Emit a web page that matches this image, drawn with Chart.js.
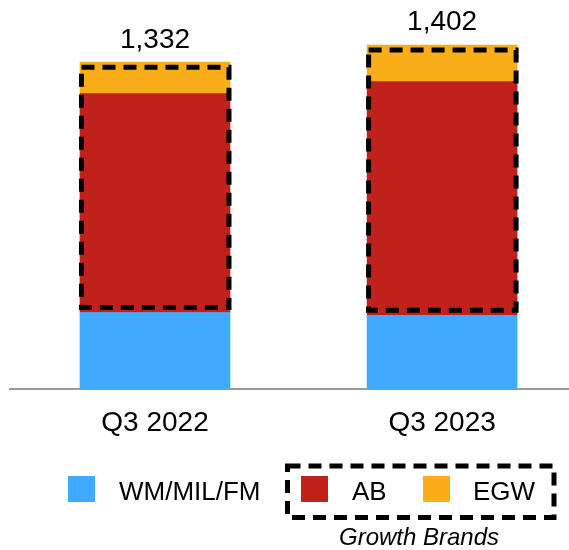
<!DOCTYPE html>
<html>
<head>
<meta charset="utf-8">
<script src="https://cdn.jsdelivr.net/npm/chart.js@4"></script>
<style>
html,body{margin:0;padding:0;background:#fff;overflow:hidden;}
#wrap{position:relative;width:569px;height:550px;}
</style>
</head>
<body>
<div id="wrap"><canvas id="c" width="569" height="550"></canvas></div>
<script>
const categories = ["Q3 2022", "Q3 2023"];
const seriesNames = ["WM/MIL/FM", "AB", "EGW"];
const wmMilFm = [313, 302];
const ab = [891, 951];
const egw = [128, 149];
const totals = [1332, 1402];
const groupLabel = "Growth Brands";
const colors = ["#40AAFF", "#C0211A", "#F9AD19"];

const FONT = "'Liberation Sans', Arial, Helvetica, sans-serif";

function toPoints(arr){ return arr.map((v,i)=>({x:i, y:v})); }

const overlay = {
  id: 'overlay',
  afterDatasetsDraw(chart){
    const ctx = chart.ctx;
    const mAB = chart.getDatasetMeta(1), mEGW = chart.getDatasetMeta(2);
    ctx.save();
    // dashed boxes around growth brands
    ctx.strokeStyle = '#000';
    ctx.lineWidth = 5;
    ctx.setLineDash([13, 8]);
    mAB.data.forEach((bar, i) => {
      const top = mEGW.data[i];
      const w = bar.width;
      const l = bar.x - w/2 + 1.5, r = bar.x + w/2 - 1;
      const t = top.y + 5, b = bar.base - 5;
      ctx.strokeRect(l, t, r - l, b - t);
    });
    ctx.setLineDash([]);
    // totals
    ctx.fillStyle = '#000';
    ctx.font = `28px ${FONT}`;
    ctx.textAlign = 'center';
    ctx.textBaseline = 'alphabetic';
    mEGW.data.forEach((bar, i) => {
      ctx.fillText(totals[i].toLocaleString('en-US'), bar.x, bar.y - 14.5);
    });
    // legend
    const sq = 27;
    const items = [
      {x: 68, tx: 119},
      {x: 301, tx: 352},
      {x: 423, tx: 473}
    ];
    ctx.font = `26px ${FONT}`;
    ctx.textAlign = 'left';
    items.forEach((it, i) => {
      ctx.fillStyle = colors[i];
      ctx.fillRect(it.x, 476, sq, sq - 1);
      ctx.fillStyle = '#000';
      ctx.fillText(seriesNames[i], it.tx, 500);
    });
    ctx.lineWidth = 5;
    ctx.setLineDash([13, 8]);
    ctx.strokeRect(287.5, 466, 554 - 287.5, 517.5 - 466);
    ctx.setLineDash([]);
    ctx.font = `italic 24px ${FONT}`;
    ctx.textAlign = 'center';
    ctx.fillText(groupLabel, 419, 545);
    ctx.restore();
  }
};

new Chart(document.getElementById('c'), {
  type: 'bar',
  data: {
    datasets: [
      {label: seriesNames[0], data: toPoints(wmMilFm), backgroundColor: colors[0]},
      {label: seriesNames[1], data: toPoints(ab), backgroundColor: colors[1]},
      {label: seriesNames[2], data: toPoints(egw), backgroundColor: colors[2]}
    ]
  },
  options: {
    responsive: false,
    devicePixelRatio: 1,
    animation: false,
    layout: {padding: {left: 10, right: 0, top: 0, bottom: 93}},
    datasets: {bar: {barThickness: 150, borderWidth: 0}},
    plugins: {legend: {display: false}, tooltip: {enabled: false}},
    scales: {
      x: {
        type: 'linear',
        stacked: true,
        offset: false,
        min: -0.505,
        max: 1.442,
        grid: {display: false, drawTicks: false, offset: false},
        border: {display: true, color: '#9a9a9a', width: 2},
        afterBuildTicks(scale){ scale.ticks = categories.map((c,i)=>({value:i})); },
        ticks: {
          autoSkip: false,
          maxRotation: 0,
          padding: 17,
          color: '#000',
          font: {family: FONT, size: 28},
          callback: (v) => categories[v] ?? ''
        }
      },
      y: {
        stacked: true,
        display: false,
        min: 0,
        max: 1585
      }
    }
  },
  plugins: [overlay]
});
</script>
</body>
</html>
